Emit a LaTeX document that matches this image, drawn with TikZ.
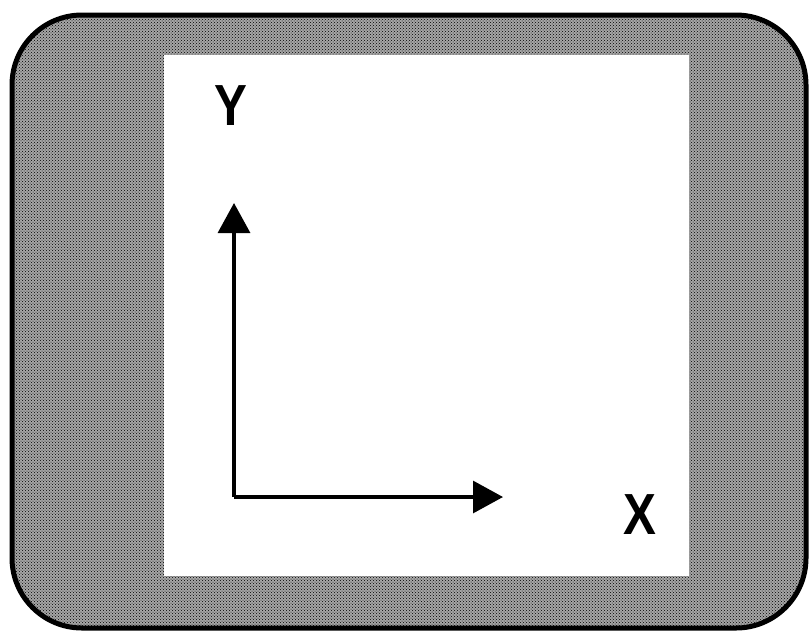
\documentclass[tikz,border=0pt]{standalone}
\usepackage{fontspec}
\setmainfont{Liberation Sans}
\usetikzlibrary{arrows.meta,patterns}

\begin{document}
\begin{tikzpicture}[x=1pt,y=-1pt,
	axis/.style={line width=3.2pt, -{Triangle[length=30pt,width=32pt]}},
	axislabel/.style={font=\fontsize{58}{60}\selectfont\bfseries, inner sep=0pt, xscale=0.85}]

	\useasboundingbox (0,0) rectangle (810,633);

	\coordinate (P1) at (12,15);
	\coordinate (P2) at (806,628);
	\coordinate (W1) at (164,55);
	\coordinate (W2) at (689,576);

	\coordinate (O) at (234,497);
	\coordinate (Xend) at (503,497);
	\coordinate (Yend) at (234,203);

	% shaded frame
	\fill[black!35, rounded corners=70pt] (P1) rectangle (P2);
	\fill[pattern=crosshatch dots, pattern color=black] (P1) [rounded corners=70pt] rectangle (P2);
	\draw[line width=5pt, rounded corners=70pt] (P1) rectangle (P2);
	\fill[white] (W1) rectangle (W2);

	\draw[axis] (O) -- (Xend);
	\draw[axis] (O) -- (Yend);

	\node[axislabel] (ylabel) at (231,106) {Y};
	\node[axislabel] (xlabel) at (640,515) {X};

\end{tikzpicture}
\end{document}
